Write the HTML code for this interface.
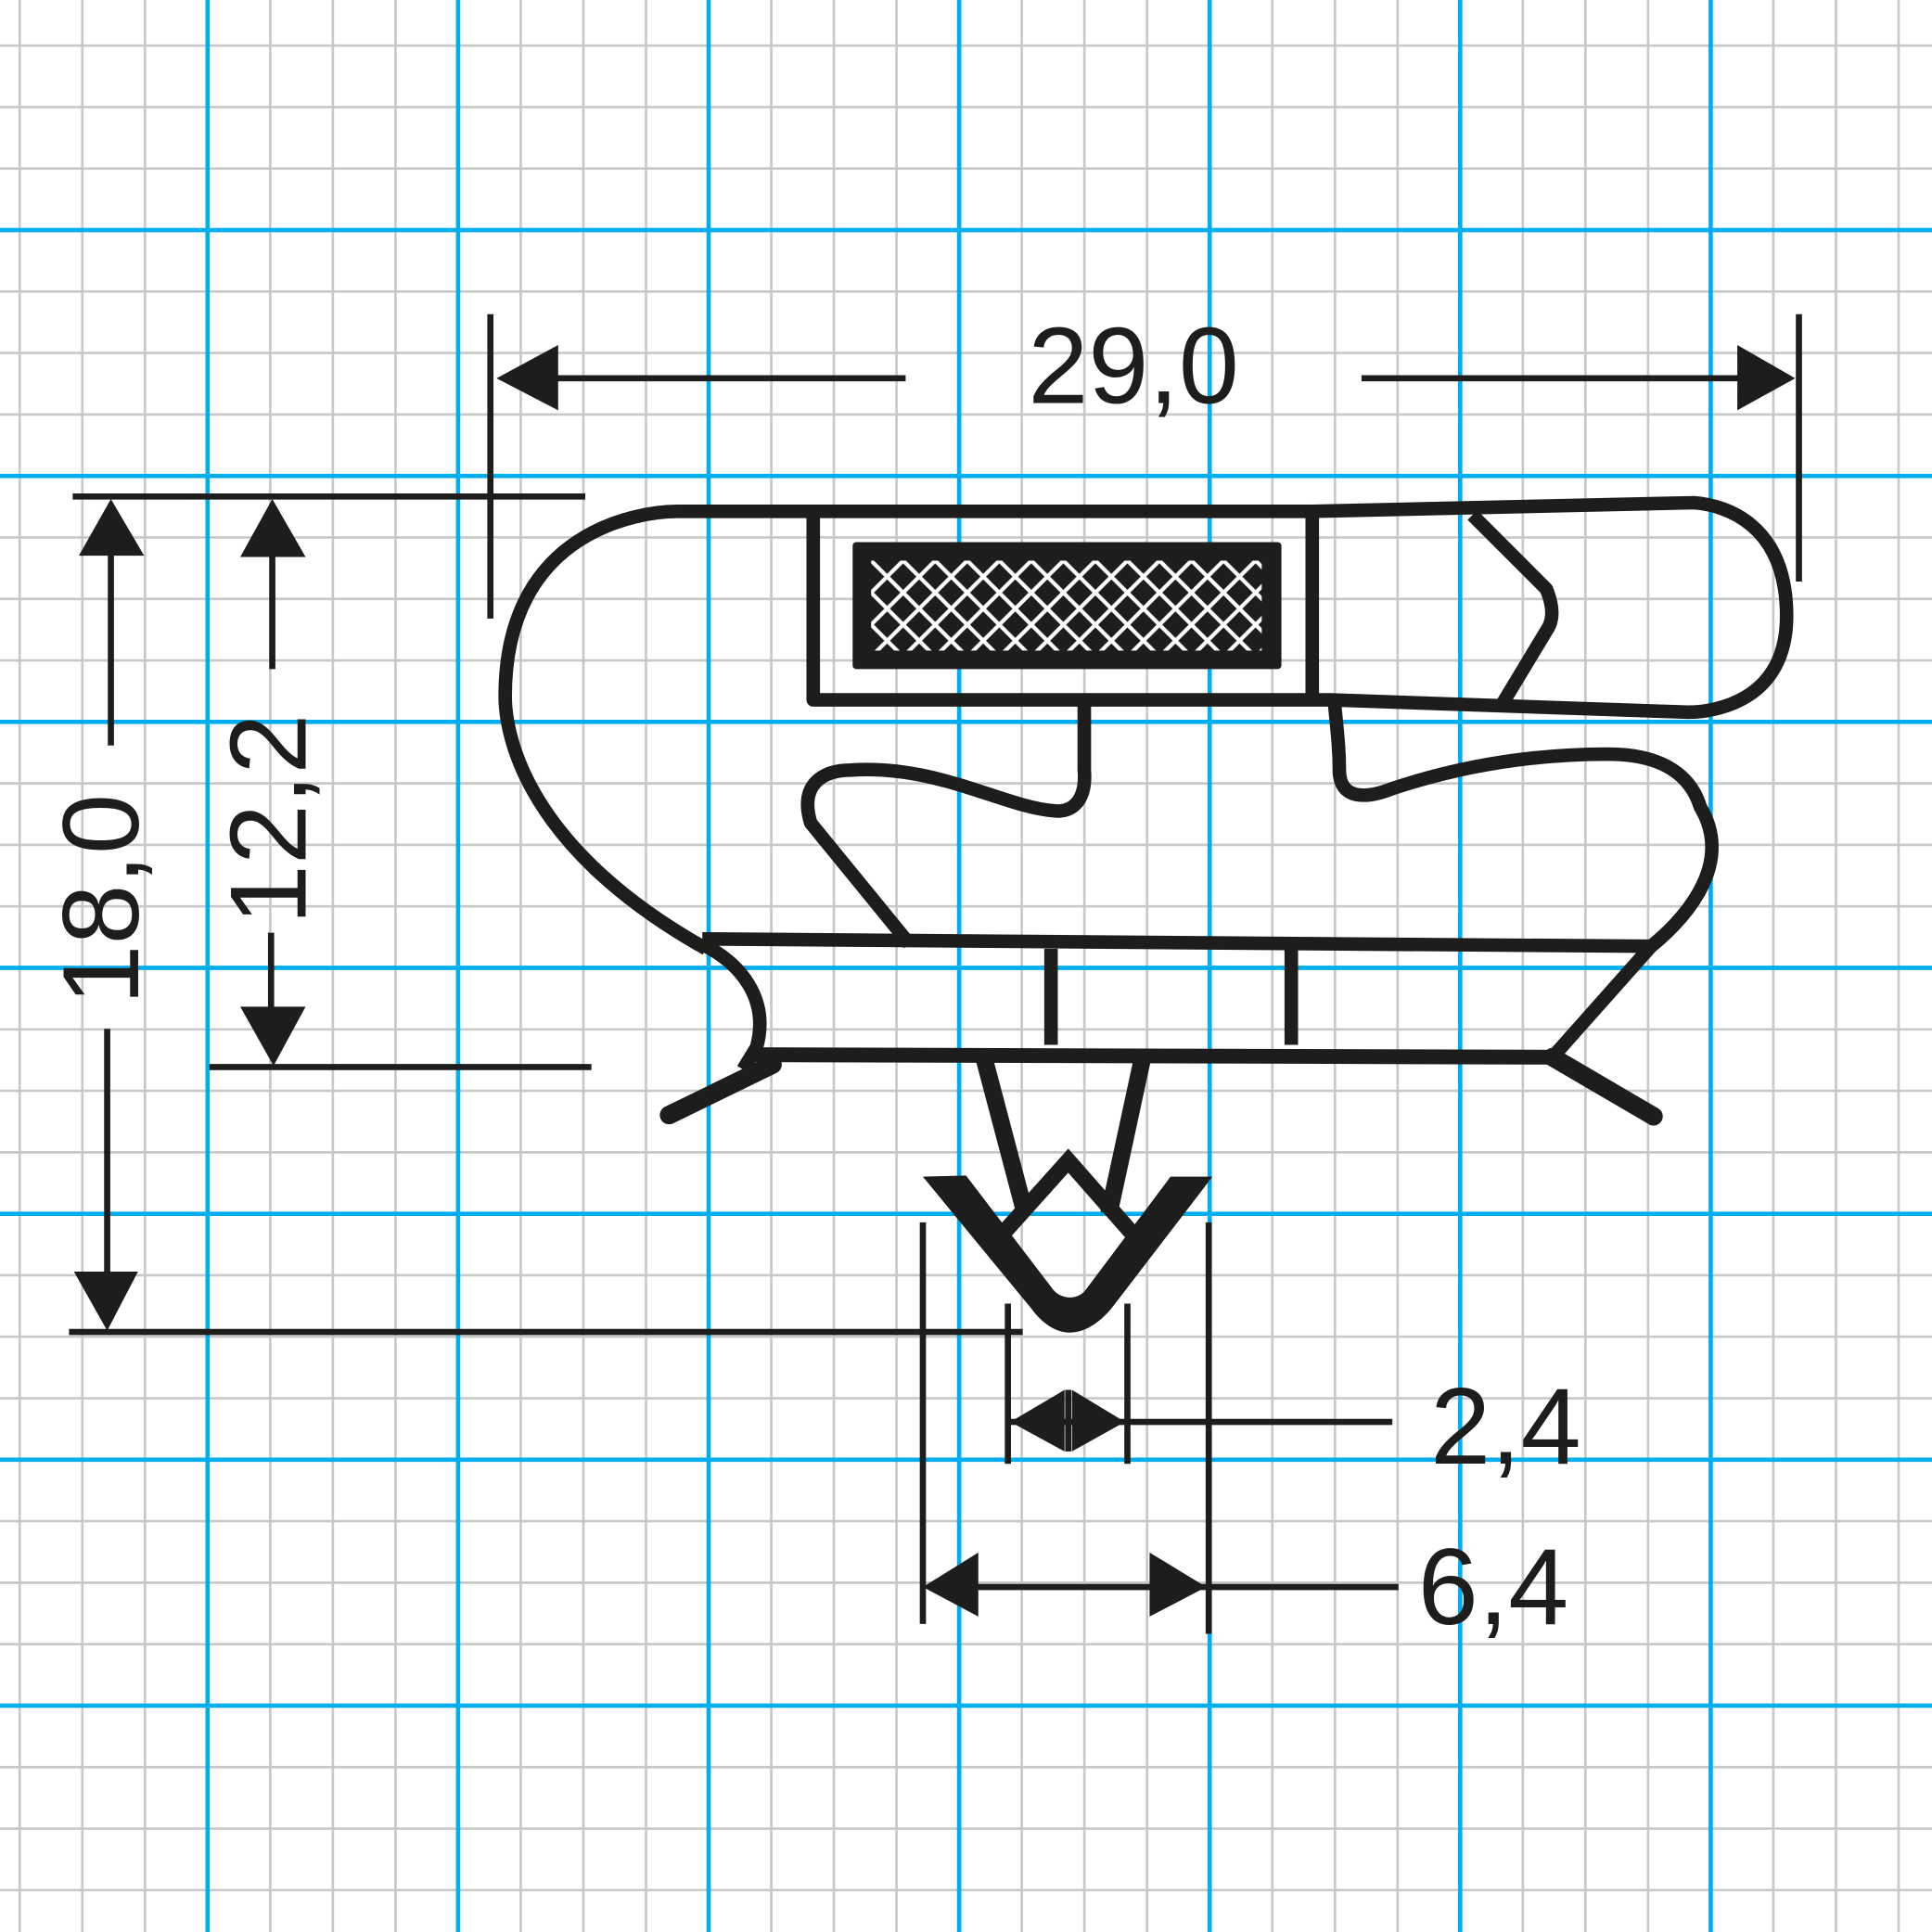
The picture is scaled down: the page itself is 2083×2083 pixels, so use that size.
<!DOCTYPE html>
<html><head><meta charset="utf-8"><style>
html,body{margin:0;padding:0;background:#fff}
svg{display:block}
text{font-family:"Liberation Sans",sans-serif;fill:#1d1d1b}
</style></head><body>
<svg id="s" width="2083" height="2083" viewBox="0 0 1568 1568" xmlns="http://www.w3.org/2000/svg">
<defs>
<pattern id="hx" x="707" y="455" width="26" height="26" patternUnits="userSpaceOnUse">
<rect width="26" height="26" fill="#1d1d1b"/>
<path d="M0 0 L26 26 M26 0 L0 26 M-13 13 L13 -13 M13 39 L39 13" stroke="#fff" stroke-width="3.2"/>
</pattern>
</defs>
<g id="grid"></g>
<g stroke="#1d1d1b" fill="none" stroke-linejoin="round">
<rect x="695" y="443" width="342" height="97" fill="#1d1d1b" stroke="#1d1d1b" stroke-width="6"/>
<rect x="707" y="455" width="317" height="73" fill="url(#hx)" stroke="none"/>
<path stroke-width="11" d="M573 770 C430 690 410 600 410 565 C410 430 520 415 550 415 L1065 415 L1375 408 C1400 410 1450 425 1450 500 C1450 570 1390 578 1370 578 L1080 568 L660 568 L660 415"/>
<path stroke-width="11" d="M1065 415 L1065 568"/>
<path stroke-width="11" d="M1195 418 L1255 478 C1262 495 1260 505 1255 512 L1220 570"/>
<path stroke-width="11" d="M880 568 L880 625 C882 650 870 660 855 658 C815 655 760 620 690 625 C670 625 648 635 658 668 L738 766"/>
<path stroke-width="11" d="M1083 570 C1086 600 1087 610 1087 625 C1087 650 1110 648 1130 640 C1190 620 1250 612 1305 612 C1370 612 1378 650 1380 655 C1410 705 1360 752 1340 768 L1260 858"/>
<path stroke-width="11" d="M570 762 L1340 768"/>
<path stroke-width="12" d="M612 856 L1260 858"/>
<path stroke-width="11" d="M853 770 L853 848 M1048 770 L1048 848"/>
<path stroke-width="11" d="M573 768 C600 782 625 810 614 850 L603 868"/>
<path stroke-width="15" stroke-linecap="round" d="M627 864 L543 905 M1260 858 L1342 906"/>
<path stroke-width="14" d="M799 860 L832 985 M927 860 L900 985"/>
<path fill="#1d1d1b" stroke="none" d="M749 955 L784 954 L855 1047 C862 1055 875 1055 881 1047 L950 955 L984 955 L902 1062 C880 1088 856 1088 837 1062 Z"/>
<path stroke-width="13" stroke-linejoin="miter" d="M815 1000 L867 942 L918 1000"/>
<g stroke-width="5">
<path d="M398 255 L398 502 M1460 255 L1460 472 M420 307 L735 307 M1105 307 L1440 307"/>
<path d="M59 403 L475 403 M170 866 L480 866 M56 1081 L830 1081"/>
<path d="M90 445 L90 605 M87 835 L87 1040 M221 445 L221 543 M220 757 L220 820"/>
<path d="M818 1058 L818 1188 M915 1058 L915 1188 M818 1154 L1130 1154 M867 1128 L867 1178"/>
<path d="M749 992 L749 1318 M981 992 L981 1326 M760 1288 L1135 1288"/>
</g>
</g>
<g fill="#1d1d1b">
<path d="M403 307 L453 280 L453 333 Z"/>
<path d="M1457 307 L1410 280 L1410 333 Z"/>
<path d="M90 405 L64 451 L117 451 Z"/>
<path d="M87 1080 L60 1032 L112 1032 Z"/>
<path d="M221 405 L195 452 L248 452 Z"/>
<path d="M222 865 L195 817 L248 817 Z"/>
<path d="M820 1154 L864 1128 L864 1178 Z"/>
<path d="M913 1154 L870 1128 L870 1178 Z"/>
<path d="M749 1288 L794 1260 L794 1312 Z"/>
<path d="M979 1288 L933 1260 L933 1312 Z"/>
</g>
<text x="920" y="327" font-size="88" text-anchor="middle">29,0</text>
<text x="1222" y="1188" font-size="88" text-anchor="middle">2,4</text>
<text x="1212" y="1318" font-size="88" text-anchor="middle">6,4</text>
<text transform="translate(112 730) rotate(-90)" font-size="88" text-anchor="middle">18,0</text>
<text transform="translate(248 665) rotate(-90)" font-size="88" text-anchor="middle">12,2</text>
</svg>
<script>
var g=document.getElementById('grid'),h='';
for(var i=0;i<32;i++){var x=16+i*50.83;if(x>1570)break;var b=(i%4==3);
h+='<line x1="'+x+'" y1="0" x2="'+x+'" y2="1568" stroke="'+(b?'#00aeef':'#c8c8c8')+'" stroke-width="'+(b?3.5:2)+'"/>';}
for(var j=0;j<33;j++){var y=37+j*49.9;if(y>1570)break;var b2=(j%4==3);
h+='<line x1="0" y1="'+y+'" x2="1568" y2="'+y+'" stroke="'+(b2?'#00aeef':'#c8c8c8')+'" stroke-width="'+(b2?3.5:2)+'"/>';}
g.innerHTML=h;
var bl=[].slice.call(g.querySelectorAll('line')).filter(function(l){return l.getAttribute('stroke')=='#00aeef'});
bl.forEach(function(l){g.appendChild(l)});
</script>
</body></html>
